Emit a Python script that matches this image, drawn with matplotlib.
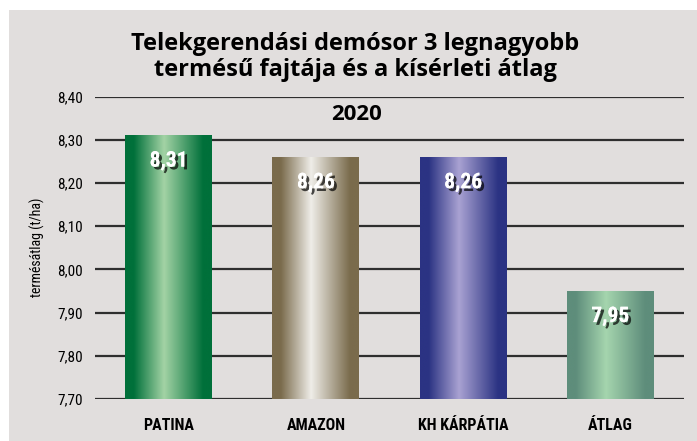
import matplotlib
matplotlib.use('Agg')
import matplotlib.pyplot as plt
import matplotlib.patheffects as pe
from matplotlib import font_manager
from matplotlib.colors import LinearSegmentedColormap
from matplotlib.patches import Rectangle
import numpy as np

# data
categories = ['PATINA', 'AMAZON', 'KH KÁRPÁTIA', 'ÁTLAG']
values = [8.31, 8.26, 8.26, 7.95]
value_labels = ['8,31', '8,26', '8,26', '7,95']
y_ticks = [7.70, 7.80, 7.90, 8.00, 8.10, 8.20, 8.30, 8.40]
y_tick_labels = ['7,70', '7,80', '7,90', '8,00', '8,10', '8,20', '8,30', '8,40']
dark_colors = ['#00703a', '#7a6b4c', '#2b3383', '#5e8d7b']
light_colors = ['#a3d3a5', '#efede8', '#a9a2d2', '#a5d5ae']

installed = {f.name for f in font_manager.fontManager.ttflist}
narrow = 'DejaVu Sans'
for cand in ['Liberation Sans Narrow', 'Roboto Condensed', 'Open Sans Condensed',
             'Noto Sans Condensed', 'DejaVu Sans Condensed']:
    if cand in installed:
        narrow = cand
        break
title_font = 'Open Sans' if 'Open Sans' in installed else 'DejaVu Sans'

W, H = 697, 441
fig = plt.figure(figsize=(W / 100, H / 100), dpi=100)
fig.patch.set_facecolor('white')

# gray panel behind everything
fig.patches.append(Rectangle((9 / W, 0), 1 - 9 / W, 1 - 10 / H, transform=fig.transFigure,
                             facecolor='#e1dedd', edgecolor='none', zorder=-5))

ax = fig.add_axes([95 / W, 1 - 399 / H, (684 - 95) / W, (399 - 96.7) / H])
ax.set_facecolor('none')
ax.set_zorder(2)

x = np.arange(len(categories))
bars = ax.bar(x, values, width=0.59, color='none', zorder=3)

# gradient fill for every bar, dark edges and light middle
grad = np.linspace(0, 1, 256).reshape(1, -1)
for bar, dark, light, lab in zip(bars, dark_colors, light_colors, value_labels):
    cmap = LinearSegmentedColormap.from_list(
        'g', [(0, dark), (0.1, dark), (0.45, light), (0.9, dark), (1, dark)])
    x0 = bar.get_x()
    x1 = x0 + bar.get_width()
    top = bar.get_height()
    ax.imshow(grad, cmap=cmap, extent=(x0, x1, 7.70, top), aspect='auto', zorder=3)
    ax.text(x0 + bar.get_width() / 2, top - 0.058, lab, ha='center', va='center',
            color='white', fontsize=15.5, fontweight='bold', family=narrow, zorder=5,
            path_effects=[pe.withSimplePatchShadow(offset=(2, -2), shadow_rgbFace='black', alpha=0.7),
                          pe.Normal()])
ax.set_xlim(-0.5, len(categories) - 0.5)
ax.set_ylim(7.70, 8.40)

# gridlines
for t in y_ticks:
    ax.axhline(t, color='#2e2e2e', lw=1.6, zorder=1)

ax.set_yticks(y_ticks)
ax.set_yticklabels(y_tick_labels, family=narrow, fontsize=11)
ax.set_xticks(x)
ax.set_xticklabels(categories, family=narrow, fontsize=11.5, fontweight='bold')
ax.tick_params(axis='y', length=0, pad=9)
ax.tick_params(axis='x', length=0, pad=14)
for s in ax.spines.values():
    s.set_visible(False)

fig.text(37 / W, 1 - 247 / H, 'termésátlag (t/ha)', rotation=90, ha='center', va='center',
         family=narrow, fontsize=10)

fig.text(355 / W, 1 - 57 / H, 'Telekgerendási demósor 3 legnagyobb\ntermésű fajtája és a kísérleti átlag',
         ha='center', va='center', fontsize=17, fontweight='bold', family=title_font,
         linespacing=1.15)
fig.text(357 / W, 1 - 114 / H, '2020', ha='center', va='center', fontsize=16,
         fontweight='bold', family=title_font)

fig.savefig('out.png', dpi=100)
